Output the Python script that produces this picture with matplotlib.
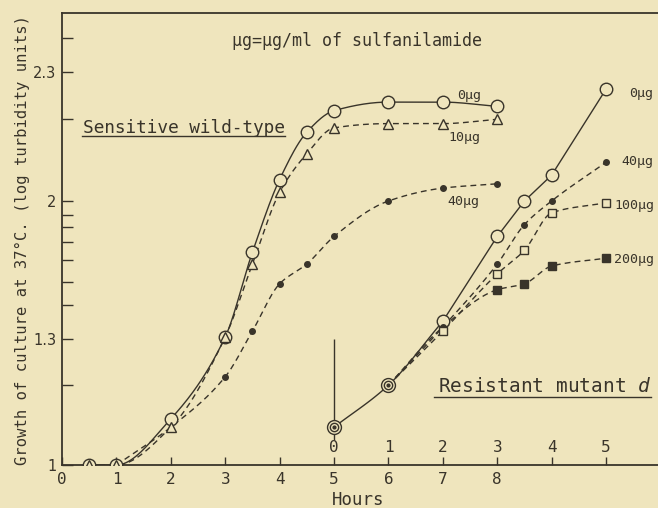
import numpy as np
import matplotlib
matplotlib.use("Agg")
import matplotlib.pyplot as plt
from matplotlib import transforms
from matplotlib.lines import Line2D

# ---------------- data (log turbidity units) ----------------
wt_hours = [0.5, 1, 2, 3, 3.5, 4, 4.5, 5, 6, 7, 8]
wt_0ug = [1.00, 1.00, 1.11, 1.31, 1.74, 2.05, 2.16, 2.21, 2.23, 2.23, 2.22]
wt_10ug = [1.00, 1.00, 1.09, 1.31, 1.68, 2.02, 2.11, 2.17, 2.18, 2.18, 2.19]
wt_40ug = [1.00, 1.00, 1.09, 1.21, 1.34, 1.58, 1.68, 1.82, 2.00, 2.03, 2.04]

mut_start = 5          # resistant culture clock starts at hour 5
mut_hours = [0, 1, 2, 3, 3.5, 4, 5]
mut_0ug = [1.09, 1.19, 1.39, 1.82, 2.00, 2.06, 2.26]
mut_40ug = [1.09, 1.19, 1.36, 1.68, 1.88, 2.00, 2.09]
mut_100ug = [1.09, 1.19, 1.34, 1.63, 1.75, 1.94, 1.99]
mut_200ug = [1.09, 1.19, 1.36, 1.55, 1.58, 1.67, 1.71]

hour_ticks = [0, 1, 2, 3, 4, 5, 6, 7, 8]
mut_tick_labels = [0, 1, 2, 3, 4, 5]
y_tick_vals = [1.0, 1.3, 2.0, 2.3]
y_tick_labels = ["1", "1.3", "2", "2.3"]
y_minor_vals = [1.19, 1.47, 1.59, 1.70, 1.79, 1.87, 1.93, 2.19, 2.38]

# ---------------- style ----------------
BG = "#efe5bd"
INK = "#39342a"
FONT = "DejaVu Sans Mono"
plt.rcParams["font.family"] = [FONT, "DejaVu Sans"]
plt.rcParams["mathtext.fontset"] = "custom"
plt.rcParams["mathtext.it"] = "DejaVu Sans Mono:italic"
plt.rcParams["mathtext.rm"] = "DejaVu Sans Mono"

W, H = 658, 508
fig = plt.figure(figsize=(W / 100, H / 100), dpi=100, facecolor=BG)


def fig_xy(px, py):
    return px / W, 1 - py / H


x0, x1, ytop, ybot = 62, 658, 13, 465
ax = fig.add_axes([x0 / W, 1 - ybot / H, (x1 - x0) / W, (ybot - ytop) / H])
ax.set_facecolor(BG)

# hand-drawn vertical scale: piecewise linear between the labelled values
anchor_vals = np.array([0.5, 1.0, 1.3, 2.0, 2.3, 2.8])
anchor_pos = np.array([-210.0, 0.0, 126.0, 264.0, 393.0, 608.0])


def fwd(v):
    return np.interp(np.asarray(v, float), anchor_vals, anchor_pos)


def inv(p):
    return np.interp(np.asarray(p, float), anchor_pos, anchor_vals)


ax.set_yscale("function", functions=(fwd, inv))
ax.set_ylim(1.0, float(inv(ybot - ytop)))
ax.set_xlim(0, (x1 - x0) / 54.4)


def pchip(x, y, xs):
    x = np.asarray(x, float)
    y = np.asarray(y, float)
    h = np.diff(x)
    d = np.diff(y) / h
    n = len(x)
    m = np.zeros(n)
    for k in range(1, n - 1):
        if d[k - 1] * d[k] > 0:
            w1 = 2 * h[k] + h[k - 1]
            w2 = h[k] + 2 * h[k - 1]
            m[k] = (w1 + w2) / (w1 / d[k - 1] + w2 / d[k])
    m[0] = d[0]
    m[-1] = d[-1]
    idx = np.clip(np.searchsorted(x, xs) - 1, 0, n - 2)
    t = (xs - x[idx]) / h[idx]
    h00 = 2 * t**3 - 3 * t**2 + 1
    h10 = t**3 - 2 * t**2 + t
    h01 = -2 * t**3 + 3 * t**2
    h11 = t**3 - t**2
    return (h00 * y[idx] + h10 * h[idx] * m[idx]
            + h01 * y[idx + 1] + h11 * h[idx] * m[idx + 1])


def curve(xv, yv, ls, start=0, straight_from=None):
    xv = np.asarray(xv, float)[start:]
    hv = fwd(yv)[start:]
    if straight_from is None:
        xs = np.linspace(xv[0], xv[-1], 300)
        hs = pchip(xv, hv, xs)
    else:
        k = straight_from - start
        xs_a = np.linspace(xv[0], xv[k], 120)
        hs_a = pchip(xv[:k + 1], hv[:k + 1], xs_a)
        xs = np.concatenate([xs_a, xv[k + 1:]])
        hs = np.concatenate([hs_a, hv[k + 1:]])
    ax.plot(xs, inv(hs), color=INK, lw=1.0, ls=ls,
            solid_capstyle="round", zorder=2)


DASH = (0, (4.2, 3.0))
mk_open = dict(ls="none", mfc=BG, mec=INK, mew=1.0, zorder=4)

# sensitive wild-type
curve(wt_hours, wt_0ug, "-")
curve(wt_hours, wt_10ug, DASH)
curve(wt_hours, wt_40ug, DASH, start=1)
ax.plot(wt_hours, wt_0ug, marker="o", ms=9, **mk_open)
ax.plot(wt_hours, wt_10ug, marker="^", ms=6.5, **{**mk_open, "zorder": 5})
ax.plot(wt_hours[3:], wt_40ug[3:], ls="none", marker="o", ms=4,
        color=INK, zorder=4)

# resistant mutant d
mx = np.asarray(mut_hours, float) + mut_start
curve(mx, mut_0ug, "-", straight_from=2)
curve(mx, mut_40ug, DASH, start=1)
curve(mx, mut_100ug, DASH, start=1)
curve(mx, mut_200ug, DASH, start=1)
ax.plot(mx[2:], mut_0ug[2:], marker="o", ms=9, **mk_open)
ax.plot(mx[2:], mut_40ug[2:], ls="none", marker="o", ms=4, color=INK, zorder=4)
ax.plot(mx[2:], mut_100ug[2:], marker="s", ms=6, **mk_open)
# at hour 2 the 200 ug reading sits under the 40 ug dot
ax.plot(mx[3:], mut_200ug[3:], ls="none", marker="s", ms=5.5, color=INK,
        zorder=4)
# common starting points: ringed dot
ax.plot(mx[:2], mut_0ug[:2], marker="o", ms=10, **mk_open)
ax.plot(mx[:2], mut_0ug[:2], marker="o", ms=6, **{**mk_open, "zorder": 5})
ax.plot(mx[:2], mut_0ug[:2], ls="none", marker="o", ms=2, color=INK, zorder=6)

# transfer marker at hour 5
ax.vlines(mut_start, 1.06, 1.30, color=INK, lw=1.0, zorder=1)

# ---------------- axes ----------------
for side in ("left", "bottom", "top"):
    ax.spines[side].set_color(INK)
    ax.spines[side].set_linewidth(1.3)
ax.spines["right"].set_visible(False)

ax.set_xticks(list(range(0, 11)))
ax.set_xticklabels([str(h) for h in hour_ticks] + ["", ""])
ax.tick_params(axis="x", direction="in", length=6, width=1.0, color=INK,
               labelsize=11.5, labelcolor=INK, pad=5)
ax.set_yticks(y_tick_vals)
ax.set_yticklabels(y_tick_labels, fontfamily="DejaVu Sans")
ax.set_yticks(y_minor_vals, minor=True)
ax.tick_params(axis="y", which="both", direction="in", length=8, width=1.0,
               color=INK, labelsize=10.5, labelcolor=INK, pad=4)
ax.tick_params(axis="x", which="minor", length=0)

blend = transforms.blended_transform_factory(ax.transData, ax.transAxes)
for s in mut_tick_labels:
    ax.text(mut_start + s, 17 / (ybot - ytop), str(s), transform=blend,
            ha="center", va="center", fontsize=11.5, color=INK)

# ---------------- text ----------------
def ftext(px, py, s, **kw):
    kw.setdefault("color", INK)
    fig.text(*fig_xy(px, py), s, **kw)


ftext(22, 240, "Growth of culture at 37°C. (log turbidity units)",
      rotation=90, ha="center", va="center", fontsize=11.2)
ftext(358, 500, "Hours", ha="center", va="center", fontsize=12.5)
ftext(232, 41, "μg=μg/ml of sulfanilamide", ha="left", va="center",
      fontsize=12)
ftext(83, 133, "Sensitive wild-type", ha="left", va="baseline",
      fontsize=12.8)
ftext(438, 392, "Resistant mutant $d$", ha="left", va="baseline",
      fontsize=14)
for (xa, xb, yy) in [(82, 285, 135.5), (434, 651, 397)]:
    fig.add_artist(Line2D([xa / W, xb / W], [1 - yy / H] * 2, color=INK,
                          lw=1.0, transform=fig.transFigure))

labels = [(469, 95, "0μg"), (464, 138, "10μg"), (463, 201, "40μg"),
          (641, 93, "0μg"), (637, 162, "40μg"), (634, 205, "100μg"),
          (634, 260, "200μg")]
for px, py, s in labels:
    ftext(px, py, s, ha="center", va="center", fontsize=9.5)

fig.savefig("out.png", dpi=100, facecolor=BG)
